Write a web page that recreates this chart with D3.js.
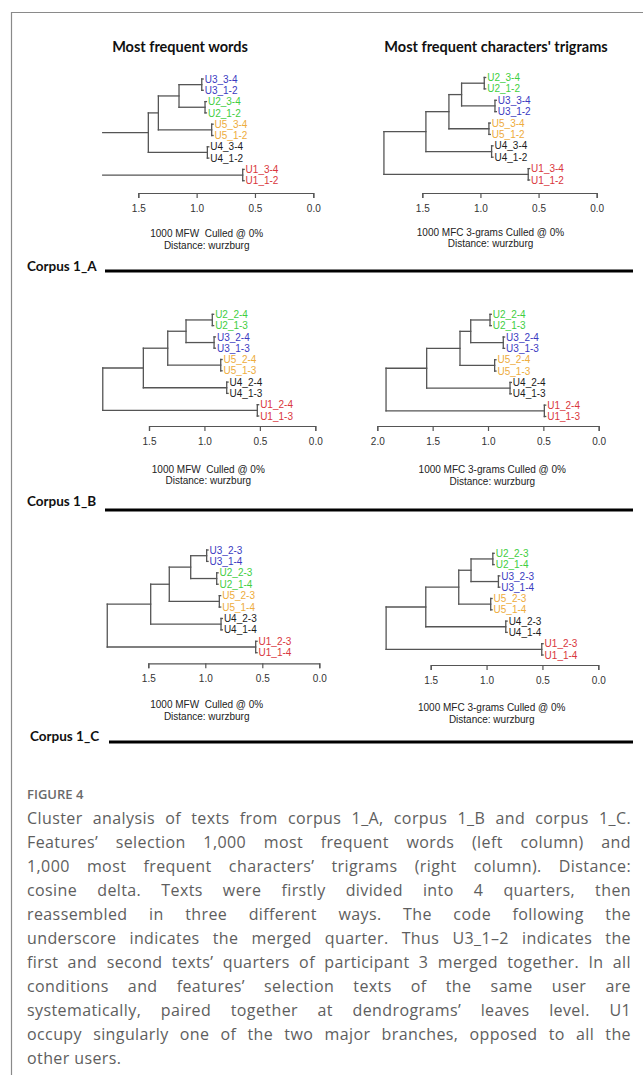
<!DOCTYPE html>
<html><head><meta charset="utf-8">
<script src="https://cdn.jsdelivr.net/npm/d3@7"></script>
<style>body{margin:0;background:#fff} svg{display:block}</style>
</head><body><svg id="c" width="643" height="1075"></svg>
<script>
// ---------- DATA ----------
const mfwA_leaves = ["U3_3-4","U3_1-2","U2_3-4","U2_1-2","U5_3-4","U5_1-2","U4_3-4","U4_1-2","U1_3-4","U1_1-2"];
const mfwA_pairHeights = [0.956, 0.928, 0.871, 0.908, 0.605];
const mfwA_mergeHeights = [1.151, 1.328, 1.414, 1.805];

const mfcA_leaves = ["U2_3-4","U2_1-2","U3_3-4","U3_1-2","U5_3-4","U5_1-2","U4_3-4","U4_1-2","U1_3-4","U1_1-2"];
const mfcA_pairHeights = [0.967, 0.875, 0.927, 0.904, 0.589];
const mfcA_mergeHeights = [1.162, 1.271, 1.469, 1.830];

const mfwB_leaves = ["U2_2-4","U2_1-3","U3_2-4","U3_1-3","U5_2-4","U5_1-3","U4_2-4","U4_1-3","U1_2-4","U1_1-3"];
const mfwB_pairHeights = [0.929, 0.913, 0.853, 0.799, 0.523];
const mfwB_mergeHeights = [1.166, 1.331, 1.551, 1.917];

const mfcB_leaves = ["U2_2-4","U2_1-3","U3_2-4","U3_1-3","U5_2-4","U5_1-3","U4_2-4","U4_1-3","U1_2-4","U1_1-3"];
const mfcB_pairHeights = [0.982, 0.862, 0.940, 0.801, 0.491];
const mfcB_mergeHeights = [1.156, 1.253, 1.554, 1.921];

const mfwC_leaves = ["U3_2-3","U3_1-4","U2_2-3","U2_1-4","U5_2-3","U5_1-4","U4_2-3","U4_1-4","U1_2-3","U1_1-4"];
const mfwC_pairHeights = [0.988, 0.900, 0.877, 0.862, 0.558];
const mfwC_mergeHeights = [1.128, 1.316, 1.479, 1.860];

const mfcC_leaves = ["U2_2-3","U2_1-4","U3_2-3","U3_1-4","U5_2-3","U5_1-4","U4_2-3","U4_1-4","U1_2-3","U1_1-4"];
const mfcC_pairHeights = [0.944, 0.894, 0.963, 0.828, 0.506];
const mfcC_mergeHeights = [1.139, 1.249, 1.544, 1.899];

const ticks15 = [1.5, 1.0, 0.5, 0.0];
const ticks20 = [2.0, 1.5, 1.0, 0.5, 0.0];

const columnTitles = ["Most frequent words", "Most frequent characters' trigrams"];
const corpusLabels = ["Corpus 1_A", "Corpus 1_B", "Corpus 1_C"];
const mfwCaption = ["1000 MFW  Culled @ 0%", "Distance: wurzburg"];
const mfcCaption = ["1000 MFC 3-grams Culled @ 0%", "Distance: wurzburg"];

const figureLabel = "FIGURE 4";
const captionLines = [
  "Cluster analysis of texts from corpus 1_A, corpus 1_B and corpus 1_C.",
  "Features\u2019 selection 1,000 most frequent words (left column) and",
  "1,000 most frequent characters\u2019 trigrams (right column). Distance:",
  "cosine delta. Texts were firstly divided into 4 quarters, then",
  "reassembled in three different ways. The code following the",
  "underscore indicates the merged quarter. Thus U3_1\u20132 indicates the",
  "first and second texts\u2019 quarters of participant 3 merged together. In all",
  "conditions and features\u2019 selection texts of the same user are",
  "systematically, paired together at dendrograms\u2019 leaves level. U1",
  "occupy singularly one of the two major branches, opposed to all the",
  "other users."
];

const groupColors = {U1:"#d9363c", U2:"#3fce3f", U3:"#3a3abf", U4:"#1c1c1c", U5:"#eeac3c"};

// ---------- LAYOUT ----------
const panels = [
  {leaves:mfwA_leaves, pairs:mfwA_pairHeights, merges:mfwA_mergeHeights, ticks:ticks15, xa:138.3, xb:313.3, axisY:193, y0:79, y9:180.7, capX:206.7, capY:[233.3,245], caption:mfwCaption, rootVertical:false},
  {leaves:mfcA_leaves, pairs:mfcA_pairHeights, merges:mfcA_mergeHeights, ticks:ticks15, xa:422.3, xb:596.7, axisY:193, y0:77.5, y9:180, capX:490.5, capY:[232.3,243.8], caption:mfcCaption, rootVertical:true},
  {leaves:mfwB_leaves, pairs:mfwB_pairHeights, merges:mfwB_mergeHeights, ticks:ticks15, xa:149, xb:315.3, axisY:426, y0:314.3, y9:416, capX:208.3, capY:[469,480.7], caption:mfwCaption, rootVertical:true},
  {leaves:mfcB_leaves, pairs:mfcB_pairHeights, merges:mfcB_mergeHeights, ticks:ticks20, xa:377.3, xb:598.7, axisY:426, y0:314.3, y9:416.5, capX:492.3, capY:[469,481.5], caption:mfcCaption, rootVertical:true},
  {leaves:mfwC_leaves, pairs:mfwC_pairHeights, merges:mfwC_mergeHeights, ticks:ticks15, xa:148.3, xb:319.3, axisY:663.3, y0:550, y9:652.7, capX:206.7, capY:[704,716.7], caption:mfwCaption, rootVertical:true},
  {leaves:mfcC_leaves, pairs:mfcC_pairHeights, merges:mfcC_mergeHeights, ticks:ticks15, xa:430.7, xb:598.3, axisY:665, y0:553.3, y9:655, capX:491.7, capY:[707.7,719.3], caption:mfcCaption, rootVertical:true}
];

const svg = d3.select("#c");
svg.append("rect").attr("width",643).attr("height",1075).attr("fill","#fff");

// frame
svg.append("path").attr("d","M11.5,1075 V12.5 H643").attr("fill","none").attr("stroke","#8a8a8a").attr("stroke-width",1.2);

// column titles
const titleFont = "Lato, 'Open Sans', sans-serif";
[[180,47],[496,47]].forEach((p,i)=>{
  svg.append("text").attr("x",p[0]).attr("y",p[1]).attr("dy","0.35em")
    .attr("text-anchor","middle").attr("font-family",titleFont).attr("font-weight",700)
    .attr("font-size",14.5).attr("fill","#111").text(columnTitles[i]);
});

// corpus labels and separators
const sepLayout = [{tx:27,ty:266,lx0:105,lx1:633,ly:271},{tx:27,ty:501,lx0:105,lx1:633,ly:510},{tx:30,ty:736,lx0:109,lx1:633,ly:742}];
sepLayout.forEach((s,i)=>{
  svg.append("text").attr("x",s.tx).attr("y",s.ty).attr("dy","0.35em")
    .attr("font-family",titleFont).attr("font-weight",700).attr("font-size",13.5).attr("fill","#111").text(corpusLabels[i]);
  svg.append("line").attr("x1",s.lx0).attr("x2",s.lx1).attr("y1",s.ly).attr("y2",s.ly)
    .attr("stroke","#000").attr("stroke-width",3);
});

const rFont = "'Liberation Sans', Arial, sans-serif";
const lineColor = "#555";

function buildTree(leaves, pairs, merges){
  const pairNodes = pairs.map((h,i)=>({height:h, children:[{name:leaves[2*i], height:h-0.012},{name:leaves[2*i+1], height:h-0.012}]}));
  let node = {height:merges[0], children:[pairNodes[0], pairNodes[1]]};
  node = {height:merges[1], children:[node, pairNodes[2]]};
  node = {height:merges[2], children:[node, pairNodes[3]]};
  return {height:merges[3], children:[node, pairNodes[4]]};
}

panels.forEach(p=>{
  const g = svg.append("g");
  const x = d3.scaleLinear().domain([p.ticks[0], 0]).range([p.xa, p.xb]);
  const y = d3.scaleLinear().domain([0, 9]).range([p.y0, p.y9]);
  const root = d3.hierarchy(buildTree(p.leaves, p.pairs, p.merges));
  let idx = 0;
  root.eachAfter(n=>{
    if(!n.children){ n.py = y(idx++); }
    else { n.py = d3.mean(n.children, c=>c.py); }
    n.px = x(n.data.height);
  });
  const segs = [];
  root.each(n=>{
    if(n.children){
      if(n !== root || p.rootVertical){
        segs.push([n.px, d3.min(n.children,c=>c.py), n.px, d3.max(n.children,c=>c.py)]);
      }
      n.children.forEach(c=>segs.push([n.px, c.py, c.px, c.py]));
    }
  });
  g.selectAll("line.seg").data(segs).join("line").attr("class","seg")
    .attr("x1",d=>d[0]).attr("y1",d=>d[1]).attr("x2",d=>d[2]).attr("y2",d=>d[3])
    .attr("stroke",lineColor).attr("stroke-width",1.3).attr("stroke-linecap","square");
  g.selectAll("text.leaf").data(root.leaves()).join("text").attr("class","leaf")
    .attr("x",d=>d.px+1.5).attr("y",d=>d.py).attr("dy","0.36em")
    .attr("font-family",rFont).attr("font-size",10)
    .attr("fill",d=>groupColors[d.data.name.slice(0,2)]).text(d=>d.data.name);
  // axis
  const ax = g.append("g").attr("transform",`translate(0,${p.axisY})`)
    .call(d3.axisBottom(x).tickValues(p.ticks).tickFormat(d3.format(".1f")).tickSize(5).tickSizeOuter(5).tickPadding(7));
  ax.select(".domain").attr("stroke",lineColor).attr("stroke-width",1.2);
  ax.selectAll(".tick line").attr("stroke",lineColor).attr("stroke-width",1.2);
  ax.selectAll(".tick text").attr("font-family",rFont).attr("font-size",10).attr("fill","#333");
  // caption
  p.caption.forEach((t,i)=>{
    g.append("text").attr("x",p.capX).attr("y",p.capY[i]).attr("dy","0.35em")
      .attr("text-anchor","middle").attr("font-family",rFont).attr("font-size",10)
      .attr("fill","#222").style("white-space","pre").text(t);
  });
});

// figure caption
const capFont = "'Open Sans', 'Noto Sans', sans-serif";
svg.append("text").attr("x",27).attr("y",794).attr("dy","0.35em")
  .attr("font-family",capFont).attr("font-weight",600).attr("font-size",13).attr("fill","#6a6a6a").text(figureLabel);

const L = 27, R = 631, W = R - L;
const capLS = 0.4;
const measure = svg.append("text").attr("font-family",capFont).attr("font-size",16).attr("letter-spacing",capLS).attr("visibility","hidden");
captionLines.forEach((line,i)=>{
  const yy = 818 + 24*i;
  const words = line.split(" ");
  const t = svg.append("text").attr("y",yy).attr("dy","0.35em")
    .attr("font-family",capFont).attr("font-size",16).attr("letter-spacing",capLS).attr("fill","#5e5e5e");
  if(i === captionLines.length-1){
    t.attr("x",L).text(line);
    return;
  }
  const widths = words.map(w=>{ measure.text(w); return measure.node().getComputedTextLength(); });
  const total = d3.sum(widths);
  const gap = (W - total)/(words.length-1);
  let cx = L;
  words.forEach((w,k)=>{
    t.append("tspan").attr("x",cx).text(w);
    cx += widths[k] + gap;
  });
});
measure.remove();
</script></body></html>
